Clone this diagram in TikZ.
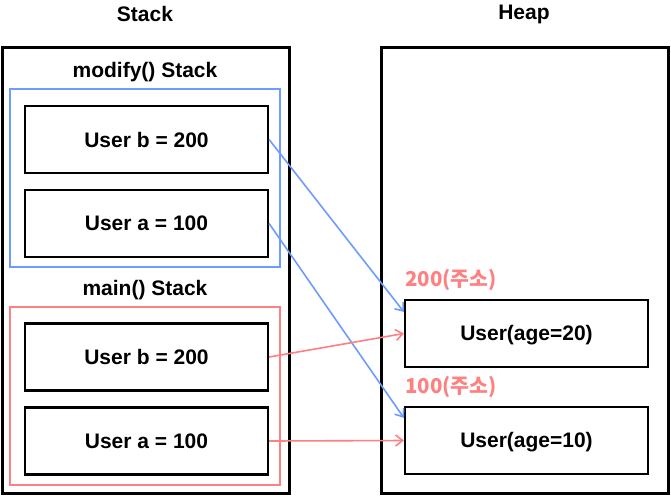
\documentclass[tikz,border=0pt]{standalone}
\usepackage{fontspec}
\setmainfont{Liberation Sans}
\newfontfamily\kr{Noto Sans CJK KR}
\usetikzlibrary{arrows.meta,calc}
\definecolor{bl}{RGB}{110,155,255}
\definecolor{rd}{RGB}{255,128,128}
\begin{document}
\begin{tikzpicture}[x=1pt,y=-1pt,
  lbl/.style={font=\bfseries\fontsize{21}{24}\selectfont},
  outer/.style={draw=black, line width=3pt, minimum width=287pt, minimum height=446pt, inner sep=0},
  frame/.style={line width=2pt, minimum width=270pt, minimum height=178pt, inner sep=0},
  cell/.style={draw=black, line width=2.2pt, minimum width=243pt, minimum height=67pt, inner sep=0, font=\bfseries\fontsize{21}{24}\selectfont},
  hcell/.style={cell, text depth=1pt},
  arr/.style={line width=1.6pt, -{Straight Barb[length=7pt,width=11pt,line width=1.6pt]}},
  addr/.style={text=rd, font=\kr\bfseries\fontsize{20.5}{24}\selectfont, inner sep=0, anchor=base west}]
\useasboundingbox (0,0) rectangle (671,496);
\node[lbl] (tS) at (145,14) {Stack};
\node[lbl] (tH) at (524,14) {Heap};
\node[outer] (stack) at (145.5,270.5) {};
\node[outer] (heap) at (524.5,270.5) {};
\node[frame, draw=bl] (modf) at (145,178) {};
\node[frame, draw=rd] (mainf) at (145,395.5) {};
\node[lbl] (tm) at (145,72) {modify() Stack};
\node[lbl] (tmain) at (145,290) {main() Stack};
\node[cell] (mb) at (146.5,139.5) {User b = 200};
\node[cell] (ma) at (146.5,223.5) {User a = 100};
\node[cell] (nb) at (146.5,357) {User b = 200};
\node[cell] (na) at (146.5,441) {User a = 100};
\node[hcell] (h20) at (526.5,333.5) {User(age=20)};
\node[hcell] (h10) at (526.5,440.5) {User(age=10)};
\node[addr] (a200) at ($(h20.north west)+(1,-12)$) {200(주소)};
\node[addr] (a100) at ($(h10.north west)+(1,-12)$) {100(주소)};
\draw[arr, bl] (mb.east) -- ($(h20.north west)+(0,13)$);
\draw[arr, bl] (ma.east) -- ($(h10.north west)+(0,12)$);
\draw[arr, rd] (nb.east) -- (h20.west);
\draw[arr, rd] (na.east) -- (h10.west);
\end{tikzpicture}
\end{document}
